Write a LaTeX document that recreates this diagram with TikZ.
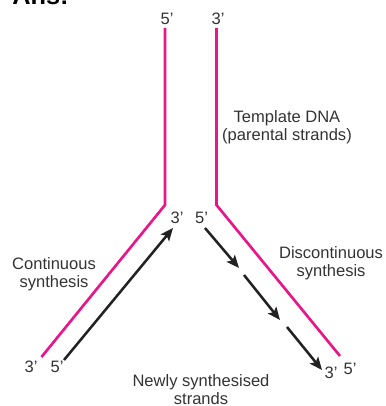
\documentclass[tikz,border=0pt]{standalone}
\usepackage{fontspec}
\setmainfont{Liberation Sans}
\usetikzlibrary{arrows.meta}
\definecolor{strandpink}{HTML}{E8168B}
\definecolor{newstrand}{HTML}{222222}
\definecolor{labelgray}{HTML}{333333}
\begin{document}
\begin{tikzpicture}[x=0.75pt,y=-0.75pt,
  template/.style={draw=strandpink,line width=2pt,line join=miter},
  daughter/.style={draw=newstrand,line width=1.9pt,
    -{Stealth[length=9.5pt,width=8pt,inset=2pt]}},
  lbl/.style={text=labelgray,font=\fontsize{12.4}{13.2}\selectfont,
    inner sep=0pt,align=center},
  heading/.style={text=black,font=\fontsize{19}{20}\selectfont\bfseries,
    inner sep=0pt,anchor=base west}]
\useasboundingbox (0,0) rectangle (385,406);

% heading, cut by the top edge of the page
\node[heading] (ans) at (12,5) {Ans:};

% parental strands opening into the fork
\coordinate (ltop) at (165,28);
\coordinate (lbend) at (165,205);
\coordinate (lend) at (41.5,357);
\coordinate (rtop) at (216.5,28);
\coordinate (rbend) at (216.5,205);
\coordinate (rend) at (340,356);
\draw[template] (ltop) -- (lbend) -- (lend);
\draw[template] (rtop) -- (rbend) -- (rend);

% leading strand
\coordinate (leadA) at (64,360);
\coordinate (leadB) at (173,228);
\draw[daughter] (leadA) -- (leadB);

% lagging strand fragments
\coordinate (lagA1) at (205,228);
\coordinate (lagB1) at (239,268);
\coordinate (lagA2) at (244,275);
\coordinate (lagB2) at (280,320);
\coordinate (lagA3) at (287,327);
\coordinate (lagB3) at (322,370);
\draw[daughter] (lagA1) -- (lagB1);
\draw[daughter] (lagA2) -- (lagB2);
\draw[daughter] (lagA3) -- (lagB3);

% strand end labels
\node[lbl] (top5) at (167,19) {5'};
\node[lbl] (top3) at (218,19) {3'};
\node[lbl] (mid3) at (177,218) {3'};
\node[lbl] (mid5) at (201.5,218) {5'};
\node[lbl] (bl3) at (31,366.5) {3'};
\node[lbl] (bl5) at (57,366.5) {5'};
\node[lbl] (br3) at (331,372.5) {3'};
\node[lbl] (br5) at (350,368.5) {5'};

% descriptive labels
\node[lbl] (tmpl) at (287,127.5) {Template DNA\\(parental strands)};
\node[lbl] (cont) at (54,274) {Continuous\\synthesis};
\node[lbl] (disc) at (331,263) {Discontinuous\\synthesis};
\node[lbl] (newly) at (201,389.5) {Newly synthesised\\strands};
\end{tikzpicture}
\end{document}
